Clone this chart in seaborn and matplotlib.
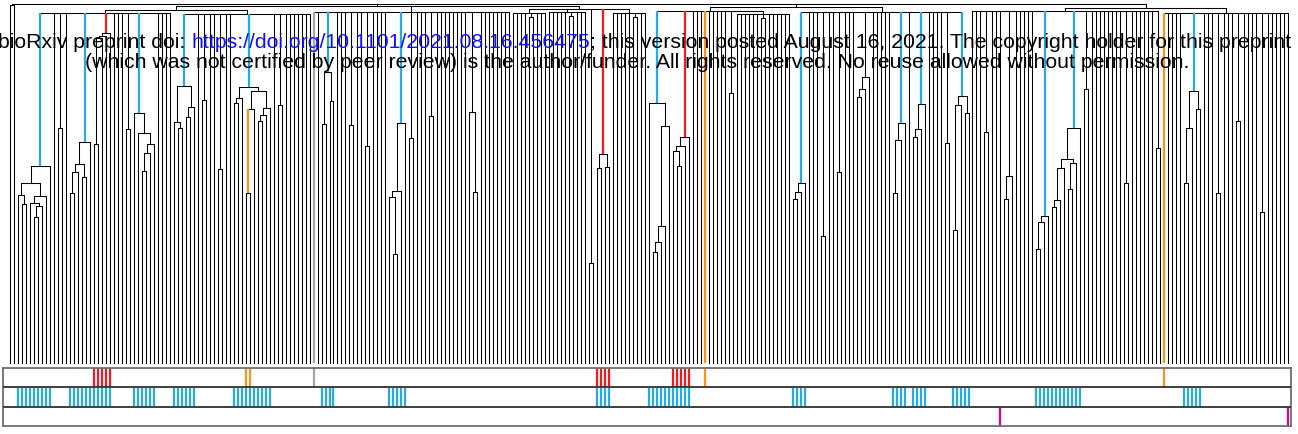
import matplotlib
matplotlib.use("Agg")
import matplotlib.pyplot as plt
from matplotlib.collections import LineCollection
import seaborn as sns

sns.set_theme(style="white")
plt.rcParams["font.family"] = ["Liberation Sans", "DejaVu Sans"]

BLUE = "#29abe2"
RED = "#ed1c24"
ORANGE = "#f7931e"
GRAY = "#a6a6a6"
PINK = "#e6007e"

# ---- tree: [merge height, *children]; an int child means that many single leaves;
# ---- (colour, child) paints the branch above that child
blue1 = [197, [180, [168, 1, [159, 1, 1]], [167, [160, 1, [157, [146, 1, 1], 1]], 1]], 1]
pair_d = [235, 1, 1]
blue2 = [221, [199, [191, [170, 1, 1], 1], [186, 1, 1]], 1]
red1 = [330, [327, [325, [219, 1, 1], 1], 1], 1]
pair_f = [234, 1, 1]
blue3 = [250, 1, [230, 1, [219, [210, [192, 1, 1], 1], 1]]]
blue4 = [277, [241, 1, [235, 1, 1]], [256, [246, 1, 1], 1]]
pair_h = [263, 1, 1]
pair_i = [194, 1, 1]
blue5 = [276, [265, [260, 1, 1], 1], [272, [254, (ORANGE, [170, 1, 1]), 1], [255, [248, [242, 1, 1], 1], 1]]]
pair_k = [258, 1, 1]

blue6 = [291, [239, 1, 1], [262, 1, 1]]
pair_n = [238, 1, 1]
pair_o = [217, 1, 1]
blue7 = [240, [172, [166, 1, [109, 1, 1]], 1], 1]
pair_q = [225, 1, 1]
pair_r = [247, 1, 1]
clade_s = [251, 1, [171, 1, 1]]

pair_t = [100, 1, 1]
red2 = [209, [195, 1, 1], [196, 1, 1]]

blue8 = [260, 1, [237, [137, [121, [111, 1, 1], 1], 1], 1]]
red3 = [226, [217, [212, 1, [197, 1, 1]], 1], 1]
pair_y = [270, 1, 1]

blue9 = [180, [171, [164, 1, 1], 1], 1]
pair_aa = [127, 1, 1]
pair_ab = [191, 1, 1]
clade_ac = [286, [274, [266, 1, 1], 1], 1]
blue10 = [240, [223, [170, 1, 1], 1], 1]
blue11 = [259, [234, [226, 1, 1], 1], 1]
pair_af = [220, 1, 1]
blue12 = [267, [258, [133, 1, 1], 1], [250, 1, 1]]

pair_ah = [231, 1, 1]
clade_aj = [187, [164, 1, 1], 1]
blue13 = [147, [141, [114, 1, 1], 1], 1]
blue14 = [235, [204, [195, [163, [156, 1, 1], 1], 1], [200, [174, 1, 1], 1]], 1]
pair_am = [274, 1, 1]
pair_an = [180, 1, 1]
pair_ao = [215, 1, 1]

blue15 = [272, [235, [180, 1, 1], 1], [254, 1, 1]]
pair_ar = [170, 1, 1]
pair_as = [242, 1, 1]
pair_at = [151, 1, 1]

group1a = [350, (BLUE, blue1), 1, pair_d, 1, (BLUE, blue2), (RED, red1), 3, pair_f, (BLUE, blue3), 4]
group1b = [349, (BLUE, blue4), 1, pair_h, 2, pair_i, 2, (BLUE, blue5), 1, pair_k, 7]
group2 = [351, (GRAY, 1), 1, (BLUE, blue6), 3, pair_n, 2, pair_o, 4, (BLUE, blue7), pair_q, 3,
          pair_r, 8, clade_s, 8]
group3 = [354, [350, 4, [346, 1, 1], 3], [351, 5, [347, 1, 1], 3], pair_t, (RED, red2),
          [350, 5, [346, 1, 1], 2]]
group4 = [352, (BLUE, blue8), (RED, red3), 3, (ORANGE, 1), 5, pair_y, [349, 6, [345, 1, 1], 6]]
group5 = [351, (BLUE, blue9), 3, pair_aa, 2, pair_ab, 3, clade_ac, 5, (BLUE, blue10), 1,
          (BLUE, blue11), 4, pair_af, (BLUE, blue12)]
group6 = [352, 3, pair_ah, 3, clade_aj, 5, (BLUE, blue13), (BLUE, blue14), pair_am, 8,
          pair_an, 6, pair_ao]
group7 = [350, (ORANGE, 1), 4, (BLUE, blue15), 3, pair_ar, 3, pair_as, 4, pair_at, 6]

root = [359.5, [358, 2], [357, [353, group1a, group1b], group2, group3],
        [356, group4, group5], [355, group6, group7]]

# ---- annotation rows (leaf index ranges, inclusive)
row1_red = [(21, 25), (147, 150), (166, 170)]
row1_orange = [59, 60, 174, 289]
row1_gray = [76]
row2_blue = [(2, 10), (15, 25), (31, 36), (41, 46), (56, 65), (78, 81), (95, 99), (147, 150),
             (160, 170), (196, 199), (221, 224), (226, 229), (236, 240), (257, 268), (294, 298)]
row3_pink = [248, 320]

# ---- layout of the tree
black_segs, col_segs, col_colors = [], [], []


def place(node, cursor):
    h = node[0]
    kids = []
    for child in node[1:]:
        color = None
        if isinstance(child, tuple):
            color, child = child
        if isinstance(child, int):
            for _ in range(child):
                kids.append((cursor, 0.0, color))
                cursor += 1
        else:
            x, ch, cursor = place(child, cursor)
            kids.append((x, ch, color))
    for x, ch, color in kids:
        seg = [(x, ch), (x, h)]
        if color is None:
            black_segs.append(seg)
        else:
            col_segs.append(seg)
            col_colors.append(color)
    black_segs.append([(kids[0][0], h), (kids[-1][0], h)])
    return (kids[0][0] + kids[-1][0]) / 2.0, h, cursor


_, _, n_leaves = place(root, 0)

W, H = 1298, 434
fig = plt.figure(figsize=(W / 100, H / 100), dpi=100)
fig.patch.set_facecolor("white")


def px_axes(x0, y0, x1, y1):
    return fig.add_axes([x0 / W, 1 - y1 / H, (x1 - x0) / W, (y1 - y0) / H])


x_left, x_right = 3.3, 1291.0
first_px, last_px = 10.0, 1288.0
step = (last_px - first_px) / (n_leaves - 1)
xlo = -(first_px - x_left) / step
xhi = (n_leaves - 1) + (x_right - last_px) / step

ax = px_axes(x_left, 3.0, x_right, 363.0)
ax.set_xlim(xlo, xhi)
ax.set_ylim(0, 360)
ax.axis("off")
ax.add_collection(LineCollection(black_segs, colors="black", linewidths=0.75,
                                 capstyle="projecting", clip_on=False, zorder=2))
ax.add_collection(LineCollection(col_segs, colors=col_colors, linewidths=1.6,
                                 capstyle="butt", clip_on=False, zorder=3))

# ---- annotation bars
bx = px_axes(x_left, 368.0, x_right, 426.0)
bx.set_xlim(xlo, xhi)
bx.set_ylim(3, 0)
bx.set_xticks([])
bx.set_yticks([])
for s in bx.spines.values():
    s.set_visible(True)
    s.set_color("#6e6e6e")
    s.set_linewidth(1.3)


def ticks(row, idx, color):
    bx.vlines(idx, row + 0.02, row + 0.98, colors=color, linewidth=1.6, zorder=2)


for a, b in row1_red:
    ticks(0, list(range(a, b + 1)), RED)
ticks(0, row1_orange, ORANGE)
ticks(0, row1_gray, GRAY)
for a, b in row2_blue:
    ticks(1, list(range(a, b + 1)), BLUE)
ticks(2, row3_pink, PINK)
bx.hlines([1, 2], xlo, xhi, colors="#2f2f2f", linewidth=1.3, zorder=3)

# ---- preprint notice across the top
renderer = fig.canvas.get_renderer()
FS = 15.3


def width(s):
    t = fig.text(0, 0, s + "l", fontsize=FS)
    w1 = t.get_window_extent(renderer).width
    t.remove()
    t = fig.text(0, 0, "l", fontsize=FS)
    w2 = t.get_window_extent(renderer).width
    t.remove()
    return w1 - w2


line1 = [("bioRxiv preprint doi: ", "black"),
         ("https://doi.org/10.1101/2021.08.16.456475", "#1010ff"),
         ("; this version posted August 16, 2021. The copyright holder for this preprint", "black")]
widths = [width(s) for s, _ in line1]
x = 645 - sum(widths) / 2
for (s, c), w in zip(line1, widths):
    fig.text(x / W, 1 - 47.5 / H, s, fontsize=FS, color=c, ha="left", va="baseline", zorder=5)
    x += w
fig.text(637 / W, 1 - 68 / H,
         "(which was not certified by peer review) is the author/funder. All rights reserved. "
         "No reuse allowed without permission.",
         fontsize=FS, color="black", ha="center", va="baseline", zorder=5)

fig.savefig("out.png", dpi=100, facecolor="white")
